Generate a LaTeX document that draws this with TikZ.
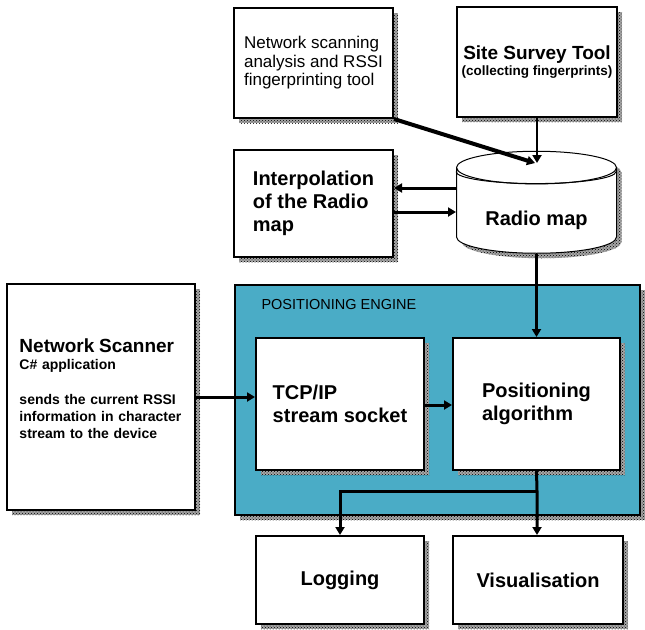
\documentclass[tikz,border=0pt]{standalone}
\usepackage{fontspec}
\setmainfont{Liberation Sans}
\usetikzlibrary{positioning,arrows.meta,shapes.geometric,patterns}
\definecolor{engineblue}{RGB}{74,172,198}

\begin{document}
\begin{tikzpicture}[x=1pt,y=-1pt,>={Triangle[length=8pt,width=9pt]},
	shadowed/.style={preaction={draw=none,fill=black!35,
		transform canvas={shift={(5pt,-5pt)}}},
		preaction={draw=none,pattern=crosshatch dots,pattern color=black,
		transform canvas={shift={(5pt,-5pt)}}}},
	box/.style={rectangle,draw,fill=white,line width=2pt,inner sep=2pt,shadowed},
	big/.style={font=\fontsize{20}{23}\selectfont\bfseries},
	flow/.style={->,line width=3pt}]
	
	\useasboundingbox (0,0) rectangle (645,629);
	
	% positioning engine in the back
	\node[box,fill=engineblue,minimum width=405,minimum height=230] (engine) at (437.5,400) {};
	\node[anchor=west,font=\fontsize{14.5}{16}\selectfont] (enginelabel) at (258,305) {POSITIONING ENGINE};
	
	\node[box,minimum width=159,minimum height=110,align=left,
		font=\fontsize{17}{18.5}\selectfont] (scan) at (313.5,63)
		{Network scanning\\analysis and RSSI\\fingerprinting tool};
	\node[box,minimum width=160,minimum height=110,align=center,
		font=\fontsize{13.5}{16}\selectfont\bfseries] (survey) at (537,62)
		{{\fontsize{19}{22}\selectfont Site Survey Tool}\\(collecting fingerprints)};
	\node[box,big,minimum width=159,minimum height=107,align=left] (interp) at (313.5,203.5)
		{Interpolation\\of the Radio\\map};
	\node[shape=cylinder,shape border rotate=90,aspect=0.3,draw,fill=white,line width=1pt,
		minimum width=160,minimum height=102,shadowed,big] (radio) at (536.5,213)
		{\raisebox{-7pt}[\height][\depth]{Radio map}};
	% second rim line of the drum top
	\draw[line width=1pt] ([yshift=-4pt]radio.west |- radio.after top)
		arc[start angle=180,end angle=0,x radius=80,y radius=12];
	
	\node[box,minimum width=188,minimum height=226,text width=163,align=left,
		font=\fontsize{14}{17}\selectfont\bfseries] (scanner) at (101,397)
		{{\fontsize{19}{22}\selectfont Network Scanner}\\C\# application\\[18pt]
		sends the current RSSI\\information in character\\stream to the device\\ \mbox{}};
	
	\node[box,big,minimum width=168,minimum height=132,align=left] (tcp) at (340,404)
		{TCP/IP\\stream socket};
	\node[box,big,minimum width=167,minimum height=132,align=left] (algo) at (536.5,404)
		{Positioning\\algorithm};
	
	\node[box,big,minimum width=168,minimum height=88] (log) at (340,580) {Logging};
	\node[box,big,minimum width=170,minimum height=88] (vis) at (538,580) {Visualisation};
	
	\coordinate (rtop) at (535,163);
	\coordinate (split) at (537,491);
	
	% connectors
	\draw[flow,line width=4pt] (scan.south east) -- (rtop);
	\draw[flow,line width=2pt] (survey.south) -- (survey.south |- rtop);
	\draw[flow] (radio.west |- 0,188) -- (interp.east |- 0,188);
	\draw[flow] (interp.east |- 0,212) -- (radio.west |- 0,212);
	\draw[flow] (algo.north |- radio.south) -- (algo.north);
	\draw[flow] (scanner.east |- 0,397) -- (tcp.west |- 0,397);
	\draw[flow] (tcp.east |- 0,405) -- (algo.west |- 0,405);
	\draw[flow] (algo.south) -- (split) -- (split |- vis.north);
	\draw[flow] (split) -| (log.north);
\end{tikzpicture}
\end{document}
